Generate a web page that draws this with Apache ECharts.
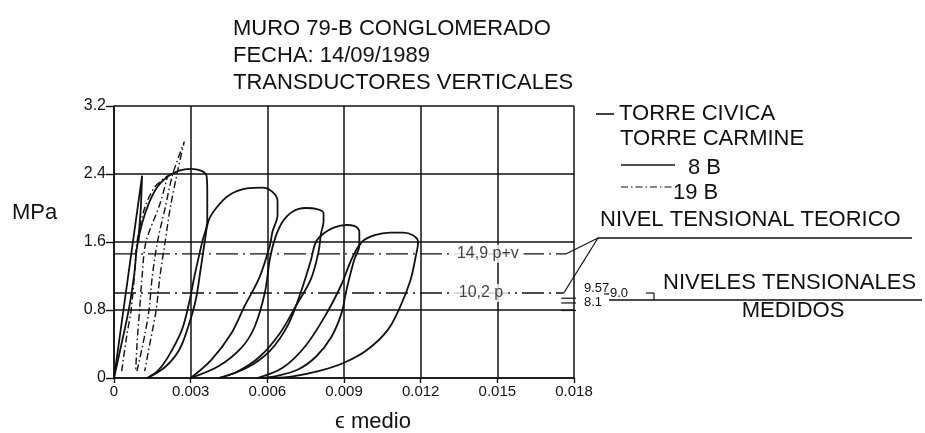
<!DOCTYPE html>
<html>
<head>
<meta charset="utf-8">
<script src="https://cdn.jsdelivr.net/npm/echarts@6/dist/echarts.min.js"></script>
<style>
  html, body { margin: 0; padding: 0; background: #fff; }
  #chart { width: 925px; height: 433px; }
</style>
</head>
<body>
<div id="chart"></div>
<script>
// Axis tick labels
const xTickLabels = ['0', '0.003', '0.006', '0.009', '0.012', '0.015', '0.018'];
const yTickLabels = ['0', '0.8', '1.6', '2.4', '3.2'];

// Transducer 8 B (solid): [strain, MPa]
const spike8B = [[0, 0], [0.0011, 2.38], [0.00105, 2.0], [0.00095, 1.6]];
const cycle1_8B = [[0, 0], [0.0003, 0.41], [0.0006, 0.84], [0.0008, 1.24], [0.0009, 1.54], [0.0011, 1.82],
  [0.00137, 2.06], [0.0017, 2.25], [0.0021, 2.37], [0.00255, 2.44], [0.003, 2.46], [0.0034, 2.44],
  [0.00362, 2.38], [0.00365, 2.2], [0.00365, 1.85], [0.00345, 1.6], [0.00315, 1.2], [0.00295, 0.9],
  [0.00265, 0.56], [0.0021, 0.24], [0.0017, 0.08], [0.0013, 0]];
const cycle2_8B = [[0.0013, 0], [0.002, 0.13], [0.00255, 0.33], [0.0029, 0.6], [0.0032, 0.92], [0.0034, 1.3],
  [0.00355, 1.6], [0.0037, 1.85], [0.004, 2.0], [0.0045, 2.15], [0.0052, 2.23], [0.0058, 2.24],
  [0.0062, 2.19], [0.0064, 2.08], [0.0064, 1.92], [0.0062, 1.72], [0.0061, 1.56], [0.0057, 1.19],
  [0.0051, 0.84], [0.0046, 0.53], [0.0038, 0.21], [0.003, 0]];
const cycle3_8B = [[0.003, 0], [0.0041, 0.14], [0.005, 0.36], [0.0055, 0.6], [0.0059, 1.0], [0.0061, 1.4],
  [0.0063, 1.64], [0.0066, 1.84], [0.007, 1.96], [0.0075, 2.0], [0.0079, 1.99], [0.0082, 1.94],
  [0.0082, 1.84], [0.0081, 1.7], [0.008, 1.48], [0.0077, 1.16], [0.0071, 0.84], [0.0065, 0.53],
  [0.0057, 0.25], [0.0048, 0.07], [0.0041, 0]];
const cycle4_8B = [[0.0041, 0], [0.0052, 0.12], [0.0061, 0.32], [0.0068, 0.62], [0.0073, 1.0], [0.0077, 1.38],
  [0.0079, 1.6], [0.0082, 1.7], [0.0086, 1.77], [0.0091, 1.8], [0.0094, 1.79], [0.0096, 1.72],
  [0.0096, 1.56], [0.0094, 1.39], [0.0091, 1.04], [0.0089, 0.76], [0.0085, 0.48], [0.0079, 0.25],
  [0.0072, 0.1], [0.0063, 0.02], [0.0056, 0]];
const cycle5_8B = [[0.0056, 0], [0.0066, 0.12], [0.0075, 0.38], [0.0083, 0.75], [0.0089, 1.1], [0.0093, 1.4],
  [0.0097, 1.6], [0.0102, 1.68], [0.0108, 1.71], [0.0113, 1.71], [0.0117, 1.68], [0.0119, 1.6],
  [0.0118, 1.42], [0.0116, 1.15], [0.0112, 0.84], [0.0107, 0.56], [0.0099, 0.33], [0.009, 0.18],
  [0.008, 0.08], [0.007, 0.02], [0.0062, 0]];

// Transducer 19 B (dash-dot): [strain, MPa]
const cycle1_19B = [[0.0003, 0.08], [0.0005, 0.5], [0.00067, 0.8], [0.0008, 1.2], [0.0009, 1.6], [0.0012, 2.0],
  [0.0016, 2.25], [0.0021, 2.38], [0.0018, 2.05], [0.00125, 1.6], [0.0011, 1.2], [0.001, 0.8],
  [0.0009, 0.4], [0.00085, 0.08]];
const cycle2_19B = [[0.0009, 0.08], [0.0012, 0.5], [0.00137, 0.8], [0.0015, 1.2], [0.0017, 1.6], [0.002, 2.0],
  [0.0023, 2.4], [0.00275, 2.78], [0.0025, 2.45], [0.0022, 2.0], [0.002, 1.6], [0.0018, 1.2],
  [0.00165, 0.8], [0.0014, 0.4], [0.0012, 0.08]];

// Stress levels in kg/cm2
const theoreticalKg = 14.9;
const meanMeasuredKg = 10.2;
const measuredKg = [9.57, 9.0, 8.1];
const KG_PER_MPA = 10.197;

const INK = '#111';
const FONT = '"Liberation Sans", Arial, Helvetica, sans-serif';

const solidCurves = [cycle1_8B, cycle2_8B, cycle3_8B, cycle4_8B, cycle5_8B];
const dashCurves = [cycle1_19B, cycle2_19B];

const series = [];
series.push({
  type: 'line', data: spike8B, symbol: 'none', smooth: false, silent: true,
  lineStyle: { color: INK, width: 1.8 }
});
solidCurves.forEach(d => series.push({
  type: 'line', data: d, symbol: 'none', smooth: 0.35, silent: true,
  lineStyle: { color: INK, width: 1.8 }
}));
dashCurves.forEach(d => series.push({
  type: 'line', data: d, symbol: 'none', smooth: 0.3, silent: true,
  lineStyle: { color: INK, width: 1.4, type: [7, 3, 1.5, 3] }
}));

const levelLines = [
  { kg: theoreticalKg, end: 0.0177, text: '14,9 p+v', at: 0.01463 },
  { kg: meanMeasuredKg, end: 0.0176, text: '10,2 p', at: 0.01436 }
];
levelLines.forEach(l => {
  const v = l.kg / KG_PER_MPA;
  series.push({
    type: 'line', data: [[0, v], [l.end, v]], symbol: 'none', silent: true, z: 2,
    lineStyle: { color: INK, width: 1.3, type: [22, 5, 2, 5] }
  });
  series.push({
    type: 'scatter', data: [[l.at, v]], symbolSize: 0, silent: true, z: 20, zlevel: 1,
    label: {
      show: true, position: 'inside', formatter: l.text, color: INK,
      fontFamily: FONT, fontSize: 16, backgroundColor: '#fff', padding: [1, 5]
    }
  });
});
measuredKg.forEach(k => {
  const v = k / KG_PER_MPA;
  series.push({
    type: 'line', data: [[0.0175, v], [0.01815, v]], symbol: 'none', silent: true, clip: false,
    lineStyle: { color: INK, width: 1.2 }
  });
});

const chart = echarts.init(document.getElementById('chart'), null, { renderer: 'canvas' });
chart.setOption({
  animation: false,
  backgroundColor: '#fff',
  title: {
    text: 'MURO 79-B CONGLOMERADO\nFECHA: 14/09/1989\nTRANSDUCTORES VERTICALES',
    left: 228, top: 10,
    textStyle: { fontFamily: FONT, fontSize: 22, fontWeight: 'normal', color: INK, lineHeight: 27 }
  },
  grid: { left: 114, right: 351, top: 106, bottom: 55 },
  xAxis: {
    type: 'value', min: 0, max: 0.018, interval: 0.003,
    axisLine: { show: true, lineStyle: { color: INK, width: 1.6 } },
    axisTick: { show: true, length: 5, lineStyle: { color: INK, width: 1.4 } },
    axisLabel: {
      color: INK, fontFamily: FONT, fontSize: 15, margin: 6,
      formatter: v => xTickLabels[Math.round(v / 0.003)]
    },
    splitLine: { show: true, lineStyle: { color: INK, width: 1.5 } }
  },
  yAxis: {
    type: 'value', min: 0, max: 3.2, interval: 0.8,
    axisLine: { show: true, lineStyle: { color: INK, width: 1.6 } },
    axisTick: { show: true, length: 8, lineStyle: { color: INK, width: 1.4 } },
    axisLabel: {
      color: INK, fontFamily: FONT, fontSize: 16, margin: 8,
      formatter: v => yTickLabels[Math.round(v / 0.8)]
    },
    splitLine: { show: true, lineStyle: { color: INK, width: 1.5 } }
  },
  series: series
});

// Legend and annotations
const thLevel = chart.convertToPixel({ xAxisIndex: 0, yAxisIndex: 0 }, [levelLines[0].end, theoreticalKg / KG_PER_MPA]);
const mmLevel = chart.convertToPixel({ xAxisIndex: 0, yAxisIndex: 0 }, [levelLines[1].end, meanMeasuredKg / KG_PER_MPA]);
const hub = [598, 238];

function txt(text, x, y, size, align) {
  return {
    type: 'text', silent: true,
    style: { text: text, x: x, y: y, fill: INK, font: size + 'px ' + FONT, align: align || 'left', verticalAlign: 'middle' }
  };
}
function seg(x1, y1, x2, y2, w, dash) {
  return {
    type: 'line', silent: true,
    shape: { x1: x1, y1: y1, x2: x2, y2: y2 },
    style: { stroke: INK, lineWidth: w || 1.4, lineDash: dash || null }
  };
}

chart.setOption({
  graphic: [
    seg(596, 114, 614, 114, 1.6),
    txt('TORRE CIVICA', 619, 114, 22),
    txt('TORRE CARMINE', 620, 139, 22),
    seg(621, 165, 675, 165, 1.3),
    txt('8 B', 688, 168, 22),
    seg(621, 187, 673, 187, 1.2, [7, 3, 1.5, 3]),
    txt('19 B', 673, 193, 22),
    txt('NIVEL TENSIONAL TEORICO', 600, 220, 22),
    seg(hub[0], hub[1], 912, hub[1], 1.4),
    seg(hub[0], hub[1], thLevel[0], thLevel[1], 1.2),
    seg(hub[0], hub[1], mmLevel[0], mmLevel[1], 1.2),
    txt('9.57', 584, 288, 13),
    txt('8.1', 584, 302, 13),
    seg(604, 294, 609, 294, 1.2),
    txt('9.0', 610, 293, 13),
    seg(609, 300, 922, 300, 1.4),
    seg(646, 293, 654, 293, 1.2),
    seg(654, 293, 654, 300, 1.2),
    txt('NIVELES TENSIONALES', 663, 283, 22),
    txt('MEDIDOS', 793, 311, 22, 'center'),
    txt('MPa', 12, 213, 22),
    txt('\u03f5 medio', 373, 422, 22, 'center')
  ]
});
</script>
</body>
</html>
